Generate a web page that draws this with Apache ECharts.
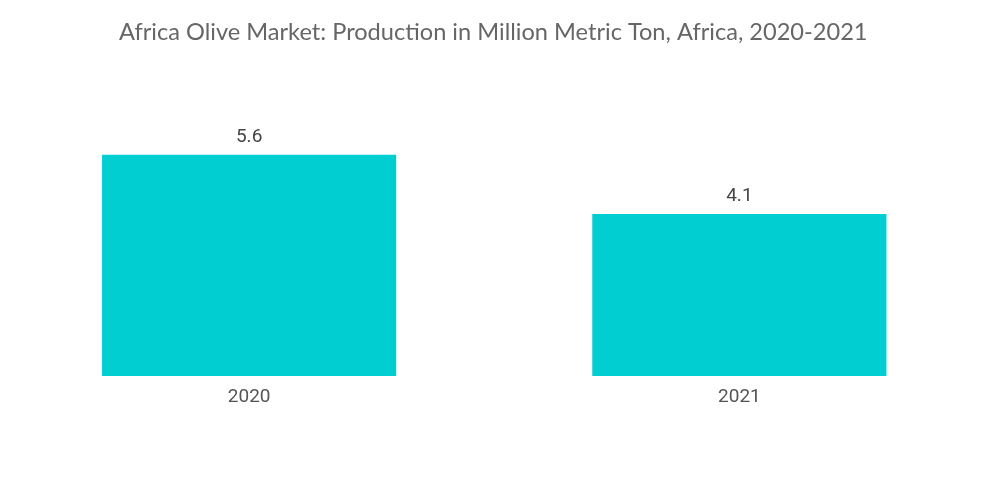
<!DOCTYPE html>
<html><head><meta charset="utf-8">
<script src="https://cdn.jsdelivr.net/npm/echarts@6/dist/echarts.min.js"></script>
<style>html,body{margin:0;padding:0;background:#fff}#c{width:1000px;height:504px}</style>
</head><body><div id="c"></div>
<script>
const categories = ['2020', '2021'];
const production = [5.6, 4.1];
const chart = echarts.init(document.getElementById('c'));
chart.setOption({
  animation: false,
  backgroundColor: '#fff',
  title: {
    text: 'Africa Olive Market: Production in Million Metric Ton, Africa, 2020-2021',
    left: 114, top: 15,
    textStyle: { fontFamily: 'Lato', fontWeight: 'normal', fontSize: 23.6, color: '#666' }
  },
  grid: { left: 4, right: 15.5, top: 99.5, bottom: 128, containLabel: false },
  xAxis: {
    type: 'category', data: categories,
    axisLine: { show: false }, axisTick: { show: false },
    axisLabel: { fontFamily: 'Roboto', fontSize: 19, color: '#555', margin: 12 }
  },
  yAxis: { type: 'value', min: 0, max: 7, show: false, splitLine: { show: false } },
  series: [{
    type: 'bar', data: production, barWidth: '60%',
    itemStyle: { color: '#00CED1' },
    label: { show: true, position: 'top', distance: 8, fontFamily: 'Roboto', fontSize: 19, color: '#444' }
  }]
});
</script></body></html>
